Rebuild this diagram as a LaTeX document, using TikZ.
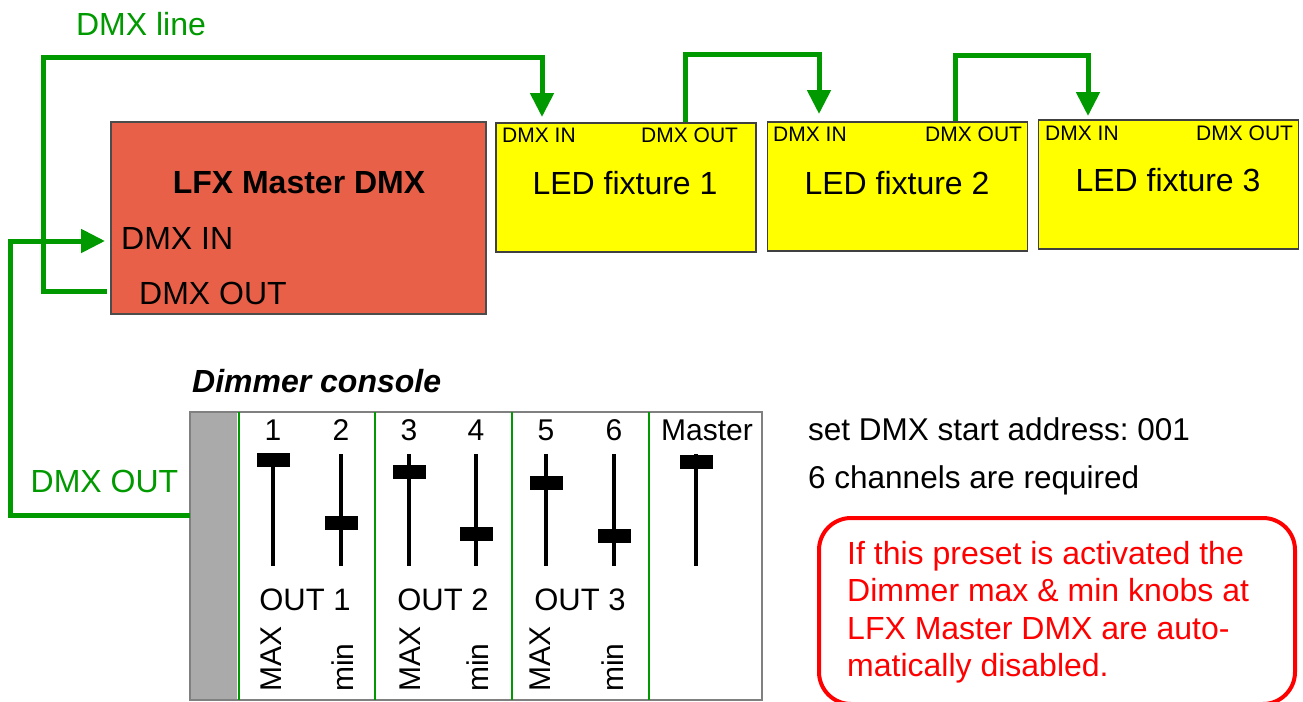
\documentclass[tikz,border=0pt]{standalone}
\usepackage{fontspec}
\setmainfont{Liberation Sans}
\usetikzlibrary{positioning,arrows.meta}
\definecolor{dmxgreen}{RGB}{0,153,0}
\definecolor{lfxred}{RGB}{232,96,72}
\definecolor{fixyellow}{RGB}{255,255,0}
\definecolor{stripgray}{RGB}{170,170,170}
\newcommand{\fsz}[1]{\fontsize{#1}{#1}\selectfont}
\frenchspacing

\begin{document}
\begin{tikzpicture}[x=1pt,y=-1pt]

    \tikzset{dmx/.style={draw=dmxgreen, line width=5pt},
             dmxarrow/.style={dmx, -{Triangle[length=24pt,width=23pt]}},
             fixture/.style={rectangle, draw=black!75, line width=1.5pt, fill=fixyellow, minimum width=260pt, minimum height=129pt, inner sep=0pt},
             portlbl/.style={anchor=west, inner sep=0pt, font=\fsz{21}},
             chan/.style={inner sep=0pt, font=\fsz{30}},
             slider/.style={draw=black, line width=4pt},
             knob/.style={rectangle, fill=black, minimum width=33pt, minimum height=14pt, inner sep=0pt},
             rot/.style={rotate=90, anchor=base west, inner sep=0pt, font=\fsz{30}},
             sep/.style={draw=dmxgreen, line width=2pt}}

    \useasboundingbox (0,0) rectangle (1303,701);
    \clip (0,0) rectangle (1303,701);

    % LFX MASTER
    \node(lfx) at (298.5,218) [rectangle, draw=black!70, line width=1.5pt, fill=lfxred, minimum width=375pt, minimum height=192pt] {};
    \node(lfxtitle) at (299,183) [font=\bfseries\fsz{32}] {LFX Master DMX};
    \node(lfxinlbl) at (121,238) [anchor=west, inner sep=0pt, font=\fsz{32}] {DMX IN};
    \node(lfxoutlbl) at (139,293) [anchor=west, inner sep=0pt, font=\fsz{32}] {DMX OUT};
    \coordinate (lfxin) at (105,241);
    \coordinate (lfxout) at (107,291);

    % FIXTURES
    \node(fix1) at (626,187.5) [fixture] {};
    \node(fix2) at (897.5,186.5) [fixture] {};
    \node(fix3) at (1168.5,184.5) [fixture] {};
    \node(fix1name) at (625,183) [font=\fsz{32}] {LED fixture 1};
    \node(fix2name) at (897,183) [font=\fsz{32}] {LED fixture 2};
    \node(fix3name) at (1168,180) [font=\fsz{32}] {LED fixture 3};
    \node(fix1in) at (502,135) [portlbl] {DMX IN};
    \node(fix1out) at (641,135) [portlbl] {DMX OUT};
    \node(fix2in) at (773,134) [portlbl] {DMX IN};
    \node(fix2out) at (925,134) [portlbl] {DMX OUT};
    \node(fix3in) at (1045,133) [portlbl] {DMX IN};
    \node(fix3out) at (1196,133) [portlbl] {DMX OUT};
    \coordinate (in1) at (542,117);
    \coordinate (in2) at (819,114);
    \coordinate (in3) at (1088,116);
    \coordinate (out1) at (685,122);
    \coordinate (out2) at (955,121);

    % DMX LINE
    \node(linelbl) at (141,24) [text=dmxgreen, font=\fsz{32}] {DMX line};
    \draw[dmxarrow] (lfxout) -| (43.5,58) -| (in1);
    \draw[dmxarrow] (out1) -- ++(0,-67) -| (in2);
    \draw[dmxarrow] (out2) -- ++(0,-65) -| (in3);

    % DIMMER CONSOLE
    \node(conlbl) at (192,381) [anchor=west, inner sep=0pt, font=\bfseries\itshape\fsz{32}] {Dimmer console};
    \fill[stripgray] (190,412) rectangle (237,700);
    \node(console) at (476,556) [rectangle, draw=gray, line width=1.5pt, minimum width=572pt, minimum height=288pt] {};
    \draw[sep] (238.5,412) -- (238.5,700);
    \draw[sep] (375,412) -- (375,700);
    \draw[sep] (512,412) -- (512,700);
    \draw[sep] (649,412) -- (649,700);

    % channel numbers
    \node(ch1) at (273,430) [chan] {1};
    \node(ch2) at (341,430) [chan] {2};
    \node(ch3) at (409,430) [chan] {3};
    \node(ch4) at (476,430) [chan] {4};
    \node(ch5) at (546,430) [chan] {5};
    \node(ch6) at (614,430) [chan] {6};
    \node(chm) at (707,430) [chan] {Master};

    % sliders
    \draw[slider] (273,454) -- (273,566);
    \draw[slider] (341,454) -- (341,566);
    \draw[slider] (409,454) -- (409,566);
    \draw[slider] (476,454) -- (476,566);
    \draw[slider] (546,454) -- (546,566);
    \draw[slider] (614,454) -- (614,566);
    \draw[slider] (696,454) -- (696,566);
    \node(k1) at (273,460) [knob] {};
    \node(k2) at (341,523) [knob] {};
    \node(k3) at (409,472) [knob] {};
    \node(k4) at (476,534) [knob] {};
    \node(k5) at (546,483) [knob] {};
    \node(k6) at (614,536) [knob] {};
    \node(km) at (696,462) [knob] {};

    % outputs
    \node(o1) at (305,600) [font=\fsz{31}] {OUT 1};
    \node(o2) at (443,600) [font=\fsz{31}] {OUT 2};
    \node(o3) at (580,600) [font=\fsz{31}] {OUT 3};
    \node(max1) at (281,692) [rot] {MAX};
    \node(min1) at (353,692) [rot] {min};
    \node(max2) at (420,692) [rot] {MAX};
    \node(min2) at (488,692) [rot] {min};
    \node(max3) at (550,692) [rot] {MAX};
    \node(min3) at (623,692) [rot] {min};

    % CONSOLE CONNEXION
    \coordinate (conout) at (190,515);
    \node(conoutlbl) at (104.5,481) [text=dmxgreen, font=\fsz{32}] {DMX OUT};
    \draw[dmxarrow] (conout) -| (10,241) -- (lfxin);

    % NOTES
    \node(addr) at (808,429) [anchor=west, inner sep=0pt, font=\fsz{31.5}] {set DMX start address: 001};
    \node(chans) at (808,480) [anchor=west, inner sep=0pt, font=\fsz{31.5}] {6 channels are required};
    \node(notebox) at (1057,611) [rectangle, rounded corners=32pt, draw=red, line width=4pt, minimum width=476pt, minimum height=186pt] {};
    \node(note) at (847,541) [anchor=north west, inner sep=0pt, align=left, text=red, font=\fontsize{32}{37.5}\selectfont] {If this preset is activated the\\Dimmer max \& min knobs at\\LFX Master DMX are auto-\\matically disabled.};

\end{tikzpicture}
\end{document}
